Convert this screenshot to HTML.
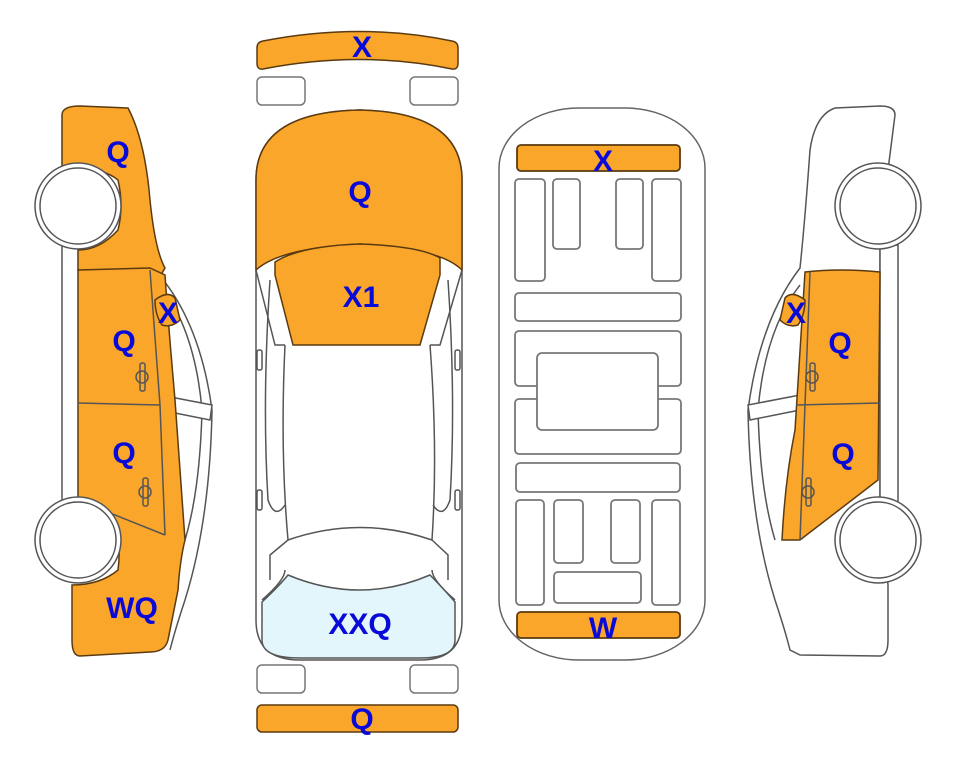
<!DOCTYPE html>
<html><head><style>
html,body{margin:0;padding:0;background:#fff;}
svg{display:block;}
text{font-family:"Liberation Sans",Arial,sans-serif;font-weight:bold;fill:#0a0ad8;font-size:30px;text-anchor:middle;}
</style></head><body>
<svg width="963" height="768" viewBox="0 0 963 768" xmlns="http://www.w3.org/2000/svg">
<g stroke="#555" stroke-width="1.5" fill="none">

<!-- ===== LEFT SIDE CAR ===== -->
<path d="M155,270 Q200,320 212,410 Q210,520 185,600 Q175,630 170,650" fill="#fff"/>
<path d="M160,285 Q195,330 202,410 Q200,490 185,540" />
<path d="M160,395 L212,405 L210,420 L160,410" fill="#fff"/>
<rect x="62" y="245" width="18" height="260" fill="#fff"/>
<path d="M62,115 Q62,106 80,106 L128,108 Q145,140 150,200 Q155,250 165,268 L158,280 L78,270 L78,250 Q100,250 118,230 Q124,206 118,180 Q100,165 62,170 Z" fill="#f9a62b" stroke="#5a3a10"/>
<path d="M78,270 L150,268 L165,275 Q168,320 175,400 L185,540 Q180,560 178,590 L168,640 Q165,652 150,652 L80,656 Q72,656 72,640 L72,585 Q100,585 118,570 Q122,540 112,515 Q100,505 90,505 L78,500 Z" fill="#f9a62b" stroke="#5a3a10"/>
<path d="M78,403 L160,405" />
<path d="M150,270 L160,405 L165,535" />
<path d="M90,505 L165,535" />
<path d="M155,300 Q168,290 175,298 L180,320 Q172,328 162,325 Q155,315 155,300 Z" fill="#f9a62b" stroke="#5a3a10"/>
<rect x="140" y="363" width="5" height="28" rx="2"/><ellipse cx="142" cy="377" rx="6" ry="6"/>
<rect x="143" y="478" width="5" height="28" rx="2"/><ellipse cx="145" cy="492" rx="6" ry="6"/>
<circle cx="78" cy="206" r="43" fill="#fff"/>
<circle cx="78" cy="206" r="38" fill="#fff"/>
<circle cx="78" cy="540" r="43" fill="#fff"/>
<circle cx="78" cy="540" r="38" fill="#fff"/>

<!-- ===== RIGHT SIDE CAR ===== -->
<path d="M895,115 Q895,106 880,106 L835,108 Q815,115 810,150 Q805,220 800,268 Q760,320 748,410 Q750,520 775,600 Q785,630 790,650 L800,655 L880,656 Q888,656 888,640 L888,585 L880,500 L880,250 L888,170 Z" fill="#fff"/>
<path d="M800,285 Q765,330 758,410 Q760,490 775,540"/>
<path d="M800,395 L748,405 L750,420 L800,410" fill="#fff"/>
<rect x="880" y="245" width="18" height="260" fill="#fff"/>
<path d="M805,272 Q840,268 880,272 L878,480 L800,540 L782,540 Q785,480 795,430 Z" fill="#f9a62b" stroke="#5a3a10"/>
<path d="M796,405 L880,403"/>
<path d="M810,272 L805,405 L800,540"/>
<path d="M805,300 Q792,290 785,298 L780,320 Q788,328 798,325 Q805,315 805,300 Z" fill="#f9a62b" stroke="#5a3a10"/>
<rect x="810" y="363" width="5" height="28" rx="2"/><ellipse cx="812" cy="377" rx="6" ry="6"/>
<rect x="806" y="478" width="5" height="28" rx="2"/><ellipse cx="808" cy="492" rx="6" ry="6"/>
<circle cx="878" cy="206" r="43" fill="#fff"/>
<circle cx="878" cy="206" r="38" fill="#fff"/>
<circle cx="878" cy="540" r="43" fill="#fff"/>
<circle cx="878" cy="540" r="38" fill="#fff"/>

<!-- ===== TOP VIEW ===== -->
<path d="M257,48 Q257,42 263,41 Q360,22 452,41 Q458,42 458,48 L458,63 Q458,70 452,69 Q360,50 263,69 Q257,70 257,63 Z" fill="#f9a62b" stroke="#5a3a10"/>
<rect x="257" y="77" width="48" height="28" rx="5" stroke="#777"/>
<rect x="410" y="77" width="48" height="28" rx="5" stroke="#777"/>
<path d="M256,180 Q256,112 360,110 Q462,112 462,180 L462,620 Q462,660 420,660 L300,660 Q256,660 256,620 Z" fill="#fff"/>
<path d="M256,180 Q256,112 360,110 Q462,112 462,180 L462,270 Q440,248 360,244 Q280,248 256,270 Z" fill="#f9a62b" stroke="#5a3a10"/>
<path d="M275,262 Q300,246 360,244 Q420,246 440,258 L440,275 L420,345 L293,345 L275,275 Z" fill="#f9a62b" stroke="#5a3a10"/>
<path d="M256,270 L275,345 L285,345 M462,270 L440,345 L430,345"/>
<path d="M285,345 Q280,450 288,540 Q360,515 432,540 Q438,450 430,345"/>
<path d="M270,280 Q262,400 268,500 Q275,520 285,505 M448,280 Q456,400 450,500 Q443,520 433,505"/>
<path d="M288,540 L270,555 L270,580 M432,540 L448,555 L448,580"/>
<path d="M262,600 Q285,580 285,570 M455,600 Q432,580 432,570"/>
<path d="M262,602 Q280,585 288,575 Q360,605 430,575 Q440,585 455,602 L455,640 Q455,658 420,658 L300,658 Q262,658 262,640 Z" fill="#e2f6fc"/>
<rect x="257" y="350" width="5" height="20" rx="2"/><rect x="455" y="350" width="5" height="20" rx="2"/>
<rect x="257" y="490" width="5" height="20" rx="2"/><rect x="455" y="490" width="5" height="20" rx="2"/>
<rect x="257" y="665" width="48" height="28" rx="5" stroke="#777"/>
<rect x="410" y="665" width="48" height="28" rx="5" stroke="#777"/>
<rect x="257" y="705" width="201" height="27" rx="5" fill="#f9a62b" stroke="#5a3a10"/>

<!-- ===== UNDERBODY ===== -->
<rect x="499" y="108" width="206" height="552" rx="80" ry="60" stroke="#666"/>
<g stroke="#777" stroke-width="1.8">
<rect x="517" y="145" width="163" height="26" rx="4" fill="#f9a62b" stroke="#5a3a10"/>
<rect x="515" y="179" width="30" height="102" rx="4"/>
<rect x="553" y="179" width="27" height="70" rx="4"/>
<rect x="616" y="179" width="27" height="70" rx="4"/>
<rect x="652" y="179" width="29" height="102" rx="4"/>
<rect x="515" y="293" width="166" height="28" rx="4"/>
<rect x="515" y="331" width="166" height="55" rx="4"/>
<rect x="515" y="399" width="166" height="55" rx="4"/>
<rect x="537" y="353" width="121" height="77" rx="5" fill="#fff"/>
<rect x="516" y="463" width="164" height="29" rx="4"/>
<rect x="516" y="500" width="28" height="105" rx="4"/>
<rect x="554" y="500" width="29" height="63" rx="4"/>
<rect x="611" y="500" width="29" height="63" rx="4"/>
<rect x="652" y="500" width="28" height="105" rx="4"/>
<rect x="554" y="572" width="87" height="31" rx="4"/>
<rect x="517" y="612" width="163" height="26" rx="4" fill="#f9a62b" stroke="#5a3a10"/>
</g>
</g>

<text x="118" y="162">Q</text>
<text x="168" y="323">X</text>
<text x="124" y="351">Q</text>
<text x="124" y="463">Q</text>
<text x="132" y="618">WQ</text>
<text x="362" y="57">X</text>
<text x="360" y="202">Q</text>
<text x="361" y="307">X1</text>
<text x="360" y="634">XXQ</text>
<text x="362" y="729">Q</text>
<text x="603" y="171">X</text>
<text x="603" y="638">W</text>
<text x="796" y="323">X</text>
<text x="840" y="353">Q</text>
<text x="843" y="464">Q</text>
</svg>
</body></html>
